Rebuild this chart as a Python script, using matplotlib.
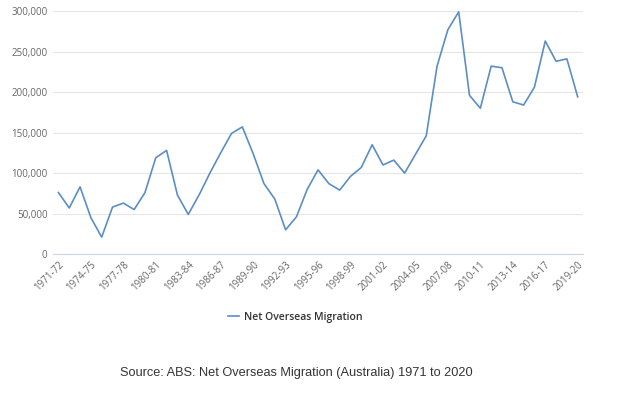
import numpy as np
import matplotlib
matplotlib.use('Agg')
import matplotlib.pyplot as plt
from matplotlib.ticker import FuncFormatter

# financial years 1971-72 .. 2019-20
years = ['%d-%02d' % (y, (y + 1) % 100) for y in range(1971, 2020)]

# net overseas migration (persons)
nom = [76000, 57000, 83000, 45000, 21000, 58000, 63000, 55000, 76000, 119000,
       128000, 73000, 49000, 73000, 100000, 125000, 149000, 157000, 124000, 87000,
       68000, 30000, 46000, 80000, 104000, 87000, 79000, 96000, 107000, 135000,
       110000, 116000, 100000, 123000, 146000, 232000, 277000, 299000, 196000, 180000,
       232000, 230000, 188000, 184000, 206000, 263000, 238000, 241000, 194000]

yticks = [0, 50000, 100000, 150000, 200000, 250000, 300000]

fig = plt.figure(figsize=(6.2, 3.94), dpi=100)
ax = fig.add_axes([0.0855, 0.355, 0.855, 0.617])

x = np.arange(len(years))
ax.plot(x, nom, color='#5b8ec4', lw=1.2, label='Net Overseas Migration')

ax.set_xlim(-0.5, len(years) - 0.5)
ax.set_ylim(0, 300000)
ax.set_yticks(yticks)
ax.yaxis.set_major_formatter(FuncFormatter(lambda v, p: '{:,.0f}'.format(v)))
ax.set_xticks(x[::3])
ax.set_xticklabels(years[::3], rotation=45, ha='right', rotation_mode='anchor')

ax.grid(axis='y', color='#e6e6e6', lw=0.8)
ax.set_axisbelow(True)
for s in ['top', 'right', 'left']:
    ax.spines[s].set_visible(False)
ax.spines['bottom'].set_color('#ccd6eb')
ax.spines['bottom'].set_linewidth(0.8)
ax.tick_params(axis='both', length=0, labelsize=7, labelcolor='#666666',
               pad=4)
for t in ax.get_xticklabels() + ax.get_yticklabels():
    t.set_family('Open Sans')

leg = ax.legend(loc='center', bbox_to_anchor=(0.4575, -0.259), frameon=False,
                prop={'family': 'Open Sans', 'size': 7.5, 'weight': 'semibold'},
                handlelength=1.0, handletextpad=0.5)
for t in leg.get_texts():
    t.set_color('#333333')

fig.text(0.478, 0.053, 'Source: ABS: Net Overseas Migration (Australia) 1971 to 2020',
         ha='center', va='center', fontsize=9.2, color='#333333',
         family='Liberation Sans')

fig.savefig('out.png', dpi=100)
